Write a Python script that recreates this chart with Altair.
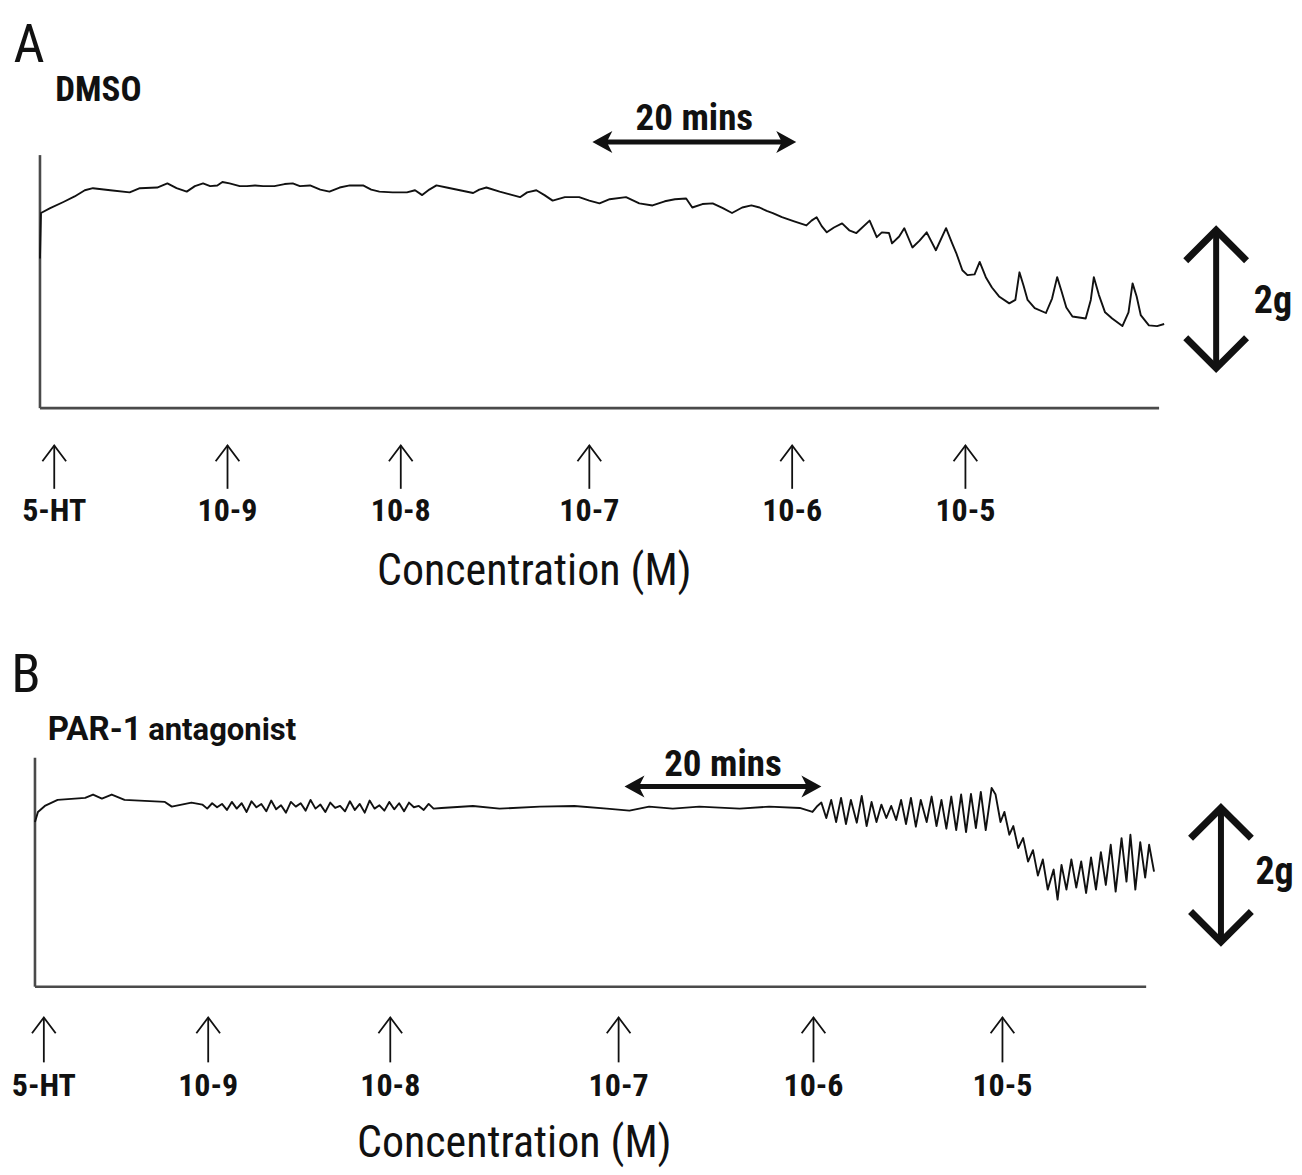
import altair as alt
import pandas as pd

# ---------------- data (time in minutes, tension in g) -------------
A_time = [0.0, 0.1, 1.0, 2.3, 3.4, 4.4, 5.2, 6.9, 8.8, 9.8, 11.5, 12.5, 13.4, 14.4, 15.2,
          16.0, 16.7, 17.4, 17.9, 18.6, 19.6, 20.3, 21.1, 21.9, 23.0, 24.0, 24.8, 25.5,
          26.5, 27.5, 28.4, 29.4, 30.4, 31.7, 32.5, 33.3, 34.6, 36.0, 36.8, 37.5, 38.2,
          38.9, 39.9, 41.2, 42.5, 43.1, 43.8, 45.1, 46.1, 47.1, 47.8, 48.7, 49.5, 50.3,
          51.5, 52.9, 53.9, 54.9, 55.9, 57.5, 58.8, 60.1, 61.3, 62.3, 63.4, 64.0, 65.0,
          66.0, 67.0, 67.9, 68.9, 69.8, 70.6, 71.3, 71.9, 72.8, 74.0, 75.2, 75.7, 76.2,
          76.7, 77.2, 77.9, 78.7, 79.4, 80.1,
          81.4, 82.1, 82.6, 83.3, 83.6, 84.3, 84.8, 85.6, 86.3, 87.0, 87.9, 88.9, 89.5,
          89.9, 90.5, 91.0, 91.7, 92.2, 92.8, 93.4, 94.1, 95.1, 95.7, 96.1, 96.5, 96.9,
          97.6, 98.7, 99.3, 99.8, 100.2, 100.7, 101.3, 102.6, 103.1, 103.4, 103.9, 104.5,
          105.2, 106.2, 106.8, 107.2, 107.6, 108.0, 108.8, 109.6, 110.3]
A_force = [2.17, 2.83, 2.90, 2.99, 3.07, 3.16, 3.19, 3.16, 3.13, 3.19, 3.20, 3.26, 3.19, 3.14, 3.22,
           3.26, 3.22, 3.23, 3.28, 3.26, 3.22, 3.22, 3.23, 3.22, 3.22, 3.25, 3.26, 3.22,
           3.23, 3.17, 3.14, 3.20, 3.23, 3.23, 3.17, 3.14, 3.13, 3.13, 3.16, 3.09, 3.17,
           3.23, 3.20, 3.16, 3.12, 3.17, 3.20, 3.14, 3.10, 3.06, 3.13, 3.16, 3.09, 3.01,
           3.06, 3.06, 3.01, 2.97, 3.03, 3.06, 2.97, 2.94, 3.00, 3.03, 3.04, 2.91, 2.96,
           2.97, 2.90, 2.83, 2.91, 2.94, 2.91, 2.86, 2.83, 2.77, 2.71, 2.65, 2.72, 2.77,
           2.64, 2.55, 2.62, 2.68, 2.58, 2.54,
           2.72, 2.48, 2.55, 2.54, 2.39, 2.49, 2.61, 2.33, 2.43, 2.55, 2.29, 2.61, 2.39,
           2.25, 2.00, 1.93, 1.94, 2.12, 1.90, 1.75, 1.62, 1.52, 1.57, 1.97, 1.78, 1.57,
           1.45, 1.38, 1.59, 1.90, 1.71, 1.46, 1.33, 1.30, 1.57, 1.90, 1.64, 1.39,
           1.30, 1.19, 1.39, 1.81, 1.62, 1.35, 1.20, 1.19, 1.22]

B_time = [0.0, 0.3, 1.0, 2.3, 5.1, 5.9, 6.8, 7.8, 9.1, 13.2, 13.9, 15.9,
          17.0, 17.5, 18.0, 18.5, 19.0, 19.5, 20.0, 20.5, 21.0, 21.5, 22.0, 22.5,
          23.0, 23.5, 24.0, 24.5, 25.0, 25.5, 26.0, 26.5, 27.0, 27.5, 28.0, 28.5,
          29.0, 29.5, 30.0, 30.5, 31.0, 31.5, 32.0, 32.5, 33.0, 33.5, 34.0, 34.5,
          35.0, 35.5, 36.0, 36.5, 37.0, 37.5, 38.0, 38.5, 39.0, 39.5, 40.0, 40.5,
          41.3, 44.5, 47.2, 51.3, 54.8, 58.1, 60.4, 62.4, 64.8, 67.5, 71.6, 74.6, 77.7, 79.0, 79.5,
          79.9, 80.4, 80.9, 81.4, 81.9, 82.4, 82.9, 83.5, 84.0, 84.5,
          85.0, 85.5, 86.0, 86.5, 87.0, 87.5, 88.0, 88.5, 89.0, 89.5,
          90.0, 90.6, 91.1, 91.6, 92.1, 92.6, 93.1, 93.6, 94.1, 94.6,
          95.1, 95.6, 96.1, 96.6, 97.2, 97.6, 98.1, 98.5, 99.0, 99.4,
          99.9, 100.4, 100.9, 101.4, 101.9, 102.4, 102.9, 103.5, 103.9, 104.3,
          104.8, 105.3, 105.8, 106.3, 106.8, 107.3, 107.8, 108.3, 108.8, 109.3,
          109.8, 110.4, 110.9, 111.3, 111.8, 112.3, 112.8, 113.2, 113.7]
B_force = [2.46, 2.61, 2.70, 2.79, 2.82, 2.87, 2.81, 2.87, 2.79, 2.76, 2.69, 2.75,
           2.72, 2.66, 2.74, 2.68, 2.73, 2.64, 2.76, 2.66, 2.74, 2.61, 2.77, 2.68,
           2.73, 2.62, 2.78, 2.65, 2.71, 2.60, 2.76, 2.69, 2.74, 2.63, 2.79, 2.66,
           2.72, 2.61, 2.75, 2.67, 2.70, 2.62, 2.77, 2.64, 2.73, 2.60, 2.78, 2.66,
           2.71, 2.63, 2.76, 2.65, 2.74, 2.62, 2.75, 2.68, 2.70, 2.64, 2.73, 2.66,
           2.67, 2.70, 2.66, 2.69, 2.70, 2.66, 2.63, 2.69, 2.66, 2.69, 2.66, 2.69, 2.67, 2.61, 2.70,
           2.75, 2.52, 2.79, 2.46, 2.82, 2.43, 2.79, 2.45, 2.85, 2.40,
           2.76, 2.46, 2.72, 2.52, 2.70, 2.49, 2.79, 2.43, 2.82, 2.39,
           2.79, 2.46, 2.84, 2.40, 2.79, 2.36, 2.84, 2.34, 2.87, 2.31,
           2.88, 2.37, 2.91, 2.34, 2.97, 2.87, 2.46, 2.61, 2.27, 2.40,
           2.07, 2.22, 1.87, 2.04, 1.66, 1.90, 1.45, 1.75, 1.30, 1.82,
           1.45, 1.90, 1.48, 1.87, 1.40, 1.93, 1.45, 2.01, 1.52, 2.12,
           1.42, 2.22, 1.57, 2.27, 1.45, 2.16, 1.63, 2.12, 1.72]

DOSE_LABELS = ["5-HT", "10-9", "10-8", "10-7", "10-6", "10-5"]
A_DOSE_TIME = [1.4, 18.4, 35.4, 53.9, 73.8, 90.8]
B_DOSE_TIME = [0.9, 17.6, 36.1, 59.3, 79.1, 98.3]

NARROW = "Roboto Condensed, Liberation Sans Narrow, Roboto, sans-serif"
SANS = "Roboto, Liberation Sans, sans-serif"
INK = "#111111"
AXIS_INK = "#4a4a4a"

UP_CHEVRON_THIN = "M -0.75 1 L 0 0 L 0.75 1"
UP_CHEVRON = "M -1 1 L 0 0 L 1 1"
DOWN_CHEVRON = "M -1 -1 L 0 0 L 1 -1"
RIGHT_HEAD = "M 0 0 L -1 -0.55 L -0.72 0 L -1 0.55 Z"
LEFT_HEAD = "M 0 0 L 1 -0.55 L 0.72 0 L 1 0.55 Z"


def panel(letter, letter_pos, titles, t, f, dose_t, xdom, ydom, w, h,
          ax_len, ax_h, dose_y, lab_y, conc_pos, bar20, txt20, bar2g, txt2g):
    xs = alt.Scale(domain=xdom, nice=False, zero=False)
    ys = alt.Scale(domain=ydom, nice=False, zero=False)
    X = alt.X("t:Q", scale=xs, axis=None)
    Y = alt.Y("g:Q", scale=ys, axis=None)
    X2 = alt.X2("t2:Q")
    Y2 = alt.Y2("g2:Q")

    axes = alt.Chart(pd.DataFrame({"t": [0, 0], "g": [0, 0], "t2": [0, ax_len], "g2": [ax_h, 0]})
                     ).mark_rule(color=AXIS_INK, strokeWidth=2.6).encode(x=X, y=Y, x2=X2, y2=Y2)

    trace = alt.Chart(pd.DataFrame({"t": t, "g": f, "i": list(range(len(t)))})).mark_line(
        color=INK, strokeWidth=1.9, strokeJoin="round").encode(x=X, y=Y, order="i:Q")

    dose_df = pd.DataFrame({"t": dose_t, "g": [dose_y[0]] * len(dose_t),
                            "g2": [dose_y[1]] * len(dose_t), "label": DOSE_LABELS,
                            "ly": [lab_y] * len(dose_t)})
    dose_shaft = alt.Chart(dose_df).mark_rule(color=INK, strokeWidth=1.8).encode(x=X, y=Y, y2=Y2)
    dose_head = alt.Chart(dose_df).mark_point(shape=UP_CHEVRON_THIN, size=1000, filled=False,
                                              color=INK, strokeWidth=1.8, opacity=1
                                              ).encode(x=X, y=Y)
    dose_text = alt.Chart(dose_df).mark_text(font=NARROW, fontSize=32, fontWeight="bold",
                                             color=INK, baseline="middle").encode(
        x=X, y=alt.Y("ly:Q", scale=ys, axis=None), text="label:N")

    conc = alt.Chart(pd.DataFrame({"t": [conc_pos[0]], "g": [conc_pos[1]],
                                   "s": ["Concentration (M)"]})).mark_text(
        font=NARROW, fontSize=44, color=INK, baseline="middle").encode(x=X, y=Y, text="s:N")

    # 20-minute scale bar
    t0, t1, gy = bar20
    bar_shaft = alt.Chart(pd.DataFrame({"t": [t0 + 1.0], "t2": [t1 - 1.0], "g": [gy]})).mark_rule(
        color=INK, strokeWidth=5).encode(x=X, x2=X2, y=Y)
    bar_r = alt.Chart(pd.DataFrame({"t": [t1], "g": [gy]})).mark_point(
        shape=RIGHT_HEAD, size=1600, filled=True, color=INK, opacity=1).encode(x=X, y=Y)
    bar_l = alt.Chart(pd.DataFrame({"t": [t0], "g": [gy]})).mark_point(
        shape=LEFT_HEAD, size=1600, filled=True, color=INK, opacity=1).encode(x=X, y=Y)
    bar_txt = alt.Chart(pd.DataFrame({"t": [txt20[0]], "g": [txt20[1]], "s": ["20 mins"]})).mark_text(
        font=NARROW, fontSize=37, fontWeight="bold", color=INK, baseline="middle").encode(
        x=X, y=Y, text="s:N")

    # 2 g scale bar
    bx, g_lo, g_hi = bar2g
    g_shaft = alt.Chart(pd.DataFrame({"t": [bx], "g": [g_lo], "g2": [g_hi]})).mark_rule(
        color=INK, strokeWidth=6).encode(x=X, y=Y, y2=Y2)
    g_up = alt.Chart(pd.DataFrame({"t": [bx], "g": [g_hi]})).mark_point(
        shape=UP_CHEVRON, size=3700, filled=False, color=INK, strokeWidth=7, opacity=1
    ).encode(x=X, y=Y)
    g_dn = alt.Chart(pd.DataFrame({"t": [bx], "g": [g_lo]})).mark_point(
        shape=DOWN_CHEVRON, size=3700, filled=False, color=INK, strokeWidth=7, opacity=1
    ).encode(x=X, y=Y)
    g_txt = alt.Chart(pd.DataFrame({"t": [txt2g[0]], "g": [txt2g[1]], "s": ["2g"]})).mark_text(
        font=NARROW, fontSize=38, fontWeight="bold", color=INK, baseline="middle", align="left"
    ).encode(x=X, y=Y, text="s:N")

    let = alt.Chart(pd.DataFrame({"t": [letter_pos[0]], "g": [letter_pos[1]], "s": [letter]})
                    ).mark_text(font=NARROW, fontSize=54, color=INK, baseline="middle",
                                align="left").encode(x=X, y=Y, text="s:N")

    layers = [axes, trace, dose_shaft, dose_head, dose_text, conc, bar_shaft, bar_r, bar_l,
              bar_txt, g_shaft, g_up, g_dn, g_txt, let]
    for (s, tt, gg, size, fnt) in titles:
        layers.append(alt.Chart(pd.DataFrame({"t": [tt], "g": [gg], "s": [s]})).mark_text(
            font=fnt, fontSize=size, fontWeight="bold", color=INK, align="left",
            baseline="alphabetic").encode(x=X, y=Y, text="s:N"))

    return alt.layer(*layers).properties(width=w, height=h)


panel_a = panel(
    "A", (-2.6, 5.25),
    [("DMSO", 1.5, 4.45, 35, NARROW)],
    A_time, A_force, A_DOSE_TIME,
    xdom=[-3.137, 122.94], ydom=[-3.333, 5.797], w=1286, h=630,
    ax_len=109.8, ax_h=3.67, dose_y=(-0.54, -1.17), lab_y=-1.49, conc_pos=(48.5, -2.38),
    bar20=(54.2, 74.2, 3.86), txt20=(64.2, 4.20), bar2g=(115.4, 0.58, 2.58), txt2g=(119.1, 1.54))

panel_b = panel(
    "B", (-2.4, 4.64),
    [("PAR-1", 1.3, 3.69, 33, SANS), ("antagonist", 11.5, 3.69, 31, SANS)],
    B_time, B_force, B_DOSE_TIME,
    xdom=[-2.741, 127.82], ydom=[-2.701, 5.209], w=1286, h=530,
    ax_len=112.9, ax_h=3.42, dose_y=(-0.46, -1.13), lab_y=-1.49, conc_pos=(48.7, -2.35),
    bar20=(59.9, 79.9, 2.99), txt20=(69.9, 3.31), bar2g=(120.5, 0.67, 2.67), txt2g=(124.0, 1.70))

chart = alt.vconcat(panel_a, panel_b, spacing=0).properties(padding=0).configure_view(stroke=None)

chart.save("out.html", embed_options={"renderer": "svg", "actions": False})
